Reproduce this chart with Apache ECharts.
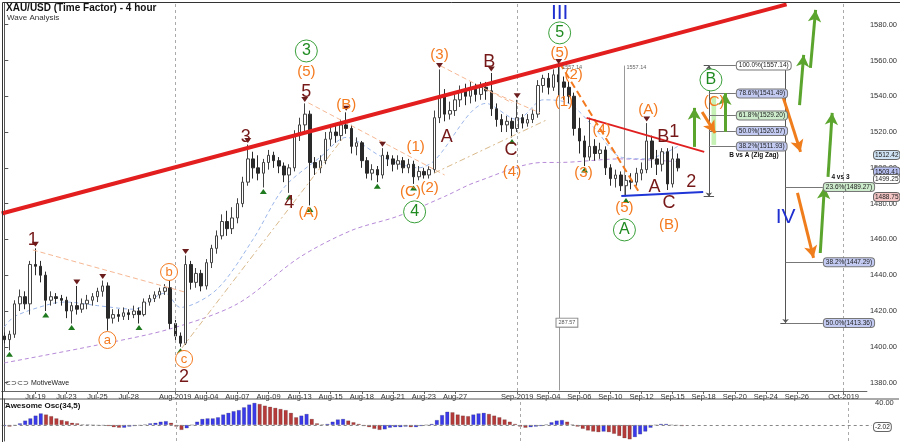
<!DOCTYPE html>
<html>
<head>
<meta charset="utf-8">
<script src="https://cdn.jsdelivr.net/npm/echarts@6/dist/echarts.min.js"></script>
<style>
  html, body { margin: 0; padding: 0; background: #fff; }
  #chart { width: 900px; height: 442px; }
</style>
</head>
<body>
<div id="chart"></div>
<script>
// trading sessions (3 bars of 8h per session), Sunday sessions carry the Sunday date
const sessions = ['Jul-17','Jul-18','Jul-19','Jul-22','Jul-23','Jul-24','Jul-25','Jul-26','Jul-28','Jul-30','Jul-31',
  'Aug-2019','Aug-02','Aug-04','Aug-06','Aug-07','Aug-08','Aug-09','Aug-12','Aug-13','Aug-14','Aug-15','Aug-16',
  'Aug-18','Aug-20','Aug-21','Aug-22','Aug-23','Aug-26','Aug-27','Aug-28','Aug-29','Aug-30',
  'Sep-2019','Sep-03','Sep-04','Sep-05','Sep-06','Sep-09','Sep-10','Sep-11','Sep-12','Sep-13',
  'Sep-15','Sep-17','Sep-18','Sep-19','Sep-20','Sep-23','Sep-24','Sep-25','Sep-26','Sep-27','Sep-30','Oct-2019','Oct-02'];
const axisDates = ['Jul-19','Jul-23','Jul-25','Jul-28','Aug-2019','Aug-04','Aug-07','Aug-09','Aug-13','Aug-15','Aug-18',
  'Aug-21','Aug-23','Aug-27','Sep-2019','Sep-04','Sep-06','Sep-10','Sep-12','Sep-15','Sep-18','Sep-20','Sep-24','Sep-26','Oct-2019'];
const priceLabels = [1380, 1400, 1420, 1440, 1460, 1480, 1500, 1520, 1540, 1560, 1580];
const aoLabels = [40];

// [open, close, low, high]
const bars = [
  [1406,1404,1402,1408],[1404,1407,1398,1409],[1407,1424,1405,1426],[1424,1428,1420,1432],[1428,1424,1421,1431],
  [1424,1446,1418,1448],[1446,1445,1440,1455],[1445,1440,1436,1448],[1440,1426,1420,1442],[1426,1428,1423,1431],
  [1428,1427,1424,1430],[1427,1426,1423,1429],[1426,1420,1416,1428],[1420,1423,1413,1425],[1423,1421,1418,1434],
  [1421,1424,1419,1427],[1424,1426,1421,1429],[1426,1428,1423,1430],[1428,1431,1425,1433],[1431,1434,1428,1437],
  [1434,1416,1409,1436],[1416,1418,1413,1421],[1418,1417,1414,1421],[1417,1419,1415,1422],[1419,1418,1415,1421],
  [1418,1420,1416,1423],[1420,1418,1413,1422],[1418,1425,1417,1427],[1425,1427,1423,1429],[1427,1429,1425,1431],
  [1429,1431,1427,1433],[1431,1433,1429,1435],[1433,1413,1410,1437],[1413,1406,1403,1415],[1406,1402,1400,1408],
  [1402,1446,1401,1451],[1446,1436,1432,1448],[1436,1441,1433,1444],[1441,1434,1431,1443],[1434,1447,1432,1449],
  [1447,1455,1444,1457],[1455,1462,1452,1465],[1462,1470,1460,1474],[1470,1466,1462,1476],[1466,1472,1463,1478],
  [1472,1480,1469,1483],[1480,1492,1478,1495],[1492,1505,1490,1513],[1505,1500,1494,1509],[1500,1497,1493,1507],
  [1497,1503,1489,1505],[1503,1507,1499,1510],[1507,1504,1500,1509],[1504,1501,1497,1506],[1501,1496,1492,1503],
  [1496,1500,1486,1502],[1500,1518,1498,1521],[1518,1524,1515,1528],[1524,1530,1520,1536],[1530,1503,1479,1532],
  [1503,1500,1496,1506],[1500,1504,1497,1507],[1504,1516,1502,1520],[1516,1520,1512,1524],[1520,1518,1514,1525],
  [1518,1524,1515,1527],[1524,1522,1519,1531],[1522,1512,1508,1524],[1512,1514,1507,1517],[1514,1504,1500,1515],
  [1504,1497,1494,1506],[1497,1499,1493,1502],[1499,1496,1492,1501],[1496,1507,1494,1511],[1507,1505,1501,1509],
  [1505,1502,1498,1507],[1502,1504,1499,1507],[1504,1500,1497,1506],[1500,1502,1497,1505],[1502,1495,1491,1504],
  [1495,1498,1493,1501],[1498,1496,1494,1500],[1496,1499,1494,1501],[1499,1528,1497,1532],[1528,1540,1525,1555],
  [1540,1530,1526,1544],[1530,1532,1527,1537],[1532,1538,1529,1541],[1538,1543,1534,1546],[1543,1540,1535,1547],
  [1540,1544,1536,1548],[1544,1541,1537,1547],[1541,1545,1538,1548],[1545,1543,1538,1548],[1543,1533,1529,1553],
  [1533,1527,1523,1536],[1527,1524,1520,1530],[1524,1526,1520,1529],[1526,1522,1517,1528],[1522,1528,1520,1538],
  [1528,1525,1522,1530],[1525,1527,1523,1530],[1527,1530,1525,1533],[1530,1546,1528,1549],[1546,1550,1542,1552],
  [1550,1545,1541,1553],[1545,1552,1543,1555],[1552,1548,1540,1557.14],[1548,1545,1538,1551],[1545,1540,1536,1548],
  [1540,1522,1518,1542],[1522,1515,1508,1528],[1515,1506,1501,1518],[1506,1512,1504,1528],[1512,1508,1504,1516],
  [1508,1510,1505,1514],[1510,1500,1496,1512],[1500,1494,1490,1502],[1494,1496,1489,1499],[1496,1490,1487,1498],
  [1490,1493,1484,1496],[1493,1492,1488,1497],[1492,1497,1490,1500],[1497,1499,1493,1503],[1499,1515,1497,1525],
  [1515,1505,1500,1518],[1505,1502,1496,1510],[1502,1509,1498,1511],[1509,1491,1487.6,1511],[1491,1505,1489,1512],
  [1505,1500,1498,1508]
];

// Awesome Oscillator (34,5)
const aoValues = [-2,-3,-1,3,8,12,17,21,19,16,12,9,7,4,3,1,1,0,-1,-1,-2,-4,-5,-5,-3,-2,-1,1,3,4,6,7,4,-3,-9,-6,0,6,11,12,
  12,14,19,22,25,27,32,37,40,38,35,33,31,29,27,22,14,17,20,11,3,1,2,6,10,11,8,5,2,-2,-4,-7,-9,-8,-5,-4,-4,-3,-4,-4,
  -2,0,2,9,18,24,23,19,17,16,19,21,22,20,17,14,10,6,2,-3,-5,-4,-3,-2,1,5,8,9,6,1,-3,-7,-10,-12,-13,-12,-13,-16,-20,-24,
  -26,-22,-17,-12,-5,0,2,2,0,-1,-2.02];

// moving averages read at sparse bars [bar, price]
const maFast = [[0,1411],[2,1417],[9,1424],[12,1425],[18,1423],[25,1421],[31,1430],[34,1422],[41,1432],[48,1460],[54,1489],
  [61,1506],[66,1517],[73,1506],[80,1500],[83,1504],[93,1536],[99,1527],[104,1538],[109,1536],[114,1522],[119,1506],[124,1505],[130,1512]];
const maSlow = [[0,1391],[18,1401],[32,1410],[45,1424],[57,1450],[67,1465],[76,1473],[85,1484],[91,1492],[104,1503],[107,1503],[119,1505],[130,1503.4]];

// wave labels [bar, price, text]
const waveMaroon = [[5.5,1459.7,'1'],[34.7,1383.2,'2'],[46.6,1517.3,'3'],[55.0,1480.4,'4'],[58.3,1542.4,'5'],[85.4,1517.3,'A'],
  [93.6,1559.2,'B'],[97.8,1510.0,'C'],[125.5,1489.3,'A'],[127.2,1517.3,'B'],[129.3,1520.1,'1'],[132.6,1492.1,'2'],[128.3,1480.4,'C']];
const waveOrange = [[58.3,1553.6,'(5)'],[58.7,1474.8,'(A)'],[66.0,1535.1,'(B)'],[79.4,1511.7,'(1)'],[78.4,1486.5,'(C)'],
  [82.1,1488.8,'(2)'],[84.0,1563.1,'(3)'],[98.0,1497.7,'(4)'],[107.2,1564.2,'(5)'],[109.9,1551.9,'(2)'],[108.0,1536.8,'(1)'],
  [111.8,1497.1,'(3)'],[115.3,1521.2,'(4)'],[119.7,1477.6,'(5)'],[124.3,1532.3,'(A)'],[128.3,1468.1,'(B)'],[137.0,1536.8,'(C)']];
const waveOrangeCircled = [[19.9,1403.8,'a'],[31.8,1441.8,'b'],[34.7,1393.2,'c']];
const waveGreenCircled = [[58.3,1565.3,'3'],[79.2,1475.4,'4'],[107.2,1575.4,'5'],[119.7,1465.3,'A'],[136.4,1549.1,'B']];
const waveBlue = [[107.2,1586.5,'III'],[150.8,1472.6,'IV']];
const swingHighs = [[6,1455],[14,1434],[19,1437],[32,1437],[35,1451],[47,1513],[58,1536],[66,1531],[73,1511],[84,1555],[94,1553],[99,1538],[107,1557.14],[124,1525]];
const swingLows = [[1,1398],[8,1420],[13,1413],[20,1409],[26,1413],[34,1400],[50,1489],[55,1486],[59,1479],[72,1492],[79,1491],[98,1517],[112,1501],[120,1484]];

// lines [bar1, price1, bar2, price2]
const mainTrend = [[-0.5,1474.5,151,1591.3]];
const triangleTop = [[112.4,1527.9,135.1,1508.9]];
const triangleBottom = [[119.1,1484.3,134.9,1486.5]];
const orangeDash = [[107.2,1558.6,122.6,1486.0]];
const lightLines = [[5.5,1454.1,34.7,1430.7],[58.7,1536.3,85.0,1496.0],[84.2,1557,98.0,1536.3],[93.2,1543.5,103.4,1530.7]];
const tanLines = [[34.3,1399.4,65.4,1516.7],[83.0,1497.1,104.7,1526.8]];
const upArrows = [[133.2,1511.7,133.2,1533.5],[139.1,1520.1,139.1,1541.8],[153.5,1535.1,154.3,1563.1],[155.6,1555.8,156.6,1588.2],
  [159.0,1494.9,159.8,1530.7],[157.5,1452.4,158.3,1489.3]];
const downArrows = [[134.7,1531.2,137.2,1519.5],[150.2,1540.7,153.7,1508.9],[153.1,1486.0,156.2,1449.7]];

// fibonacci tools
const fibB = { bar: 136.0, end: 141.2, high: 1557.14, low: 1484.0,
  levels: [['100.0%', 1557.14], ['78.6%', 1541.49], ['61.8%', 1529.20], ['50.0%', 1520.57], ['38.2%', 1511.93]] };
const fibIV = { bar: 150.8, end: 158.0, high: 1557.14, low: 1413.36,
  levels: [['23.6%', 1489.27], ['38.2%', 1447.29], ['50.0%', 1413.36]] };
const monthStarts = [33, 99, 162];

const FONT = '"Liberation Sans", Arial, sans-serif';
const MAROON = '#761818', ORANGE = '#f47a1f', BLUE = '#1f2fd0';

const nBars = 167;
const categories = [];
for (let i = 0; i < nBars; i++) categories.push(sessions[Math.floor(i / 3)] + '#' + (i % 3));
const showDate = (i, v) => i % 3 === 0 && axisDates.includes(v.split('#')[0]);

const chart = echarts.init(document.getElementById('chart'));

function seg(l, style, extra) {
  return [Object.assign({ coord: [l[0], l[1]], lineStyle: style, symbol: 'none' }, extra || {}),
          { coord: [l[2], l[3]], symbol: 'none' }];
}
function arrow(l, color) {
  return [{ coord: [l[0], l[1]], lineStyle: { color: color, width: 3, type: 'solid' }, symbol: 'none' },
          { coord: [l[2], l[3]], symbol: 'arrow', symbolSize: [10, 12] }];
}
const fibColors = { '100.0%': '#ffffff', '78.6%': '#c3cbf3', '61.8%': '#cdeccc', '50.0%': '#c3cbf3', '38.2%': '#c3cbf3', '23.6%': '#cdeccc' };
function fibLines(f) {
  const gray = { color: '#555', width: 1, type: 'solid' };
  const out = [
    [{ coord: [f.bar, f.high], lineStyle: gray, symbol: 'arrow', symbolSize: [5, 4] }, { coord: [f.bar, f.low], symbol: 'arrow', symbolSize: [5, 4] }],
    seg([f.bar - 1, f.high, f.bar + 1, f.high], gray),
    seg([f.bar - 1, f.low, f.bar + 1, f.low], gray)
  ];
  f.levels.forEach(([pct, v]) => {
    out.push(seg([f.bar, v, f.end, v], { color: '#777', width: 1, type: 'solid' }, {
      label: {
        show: true, position: 'end', distance: 1,
        formatter: pct + '(' + v.toFixed(2) + ')',
        fontSize: 6.5, fontFamily: FONT, color: '#222',
        backgroundColor: fibColors[pct], borderColor: '#777', borderWidth: 1, borderRadius: 3, padding: [1, 2, 0, 2]
      }
    }));
  });
  return out;
}

function textSeries(data, color, size, extra) {
  return Object.assign({
    type: 'scatter', xAxisIndex: 1, yAxisIndex: 0, silent: true, z: 6,
    data: data, symbol: 'circle', symbolSize: 1,
    itemStyle: { color: 'rgba(0,0,0,0)', opacity: 1 },
    label: { show: true, position: 'inside', formatter: p => p.value[2], color: color, fontSize: size, fontFamily: FONT,
             opacity: 1, textBorderWidth: 0 }
  }, extra || {});
}

const option = {
  animation: false,
  backgroundColor: '#fff',
  grid: [
    { left: 1.7, top: 3, width: 870.3, height: 388 },
    { left: 1.7, top: 399, width: 870.3, height: 42 }
  ],
  xAxis: [
    { type: 'category', gridIndex: 0, data: categories, boundaryGap: true,
      axisLine: { lineStyle: { color: '#666' } },
      axisTick: { show: true, interval: showDate, alignWithLabel: true, length: 3, lineStyle: { color: '#666' } },
      axisLabel: { interval: showDate, formatter: v => v.split('#')[0], fontSize: 7.5, color: '#333', fontFamily: FONT, margin: 2 },
      splitLine: { show: false } },
    { type: 'value', gridIndex: 0, min: -0.5, max: nBars - 0.5, show: false },
    { type: 'category', gridIndex: 1, data: categories, boundaryGap: true, show: false },
    { type: 'value', gridIndex: 1, min: -0.5, max: nBars - 0.5, show: false }
  ],
  yAxis: [
    { type: 'value', gridIndex: 0, position: 'right', min: 1375.3, max: 1592.1, scale: true,
      axisLine: { show: true, lineStyle: { color: '#555' } },
      axisTick: { show: true, customValues: priceLabels, length: 4, lineStyle: { color: '#555' } },
      axisLabel: { customValues: priceLabels, formatter: v => v.toFixed(2), fontSize: 7.5, color: '#333', fontFamily: FONT, margin: 3 },
      splitLine: { show: false } },
    { type: 'value', gridIndex: 1, position: 'right', min: -29, max: 47,
      axisLine: { show: true, lineStyle: { color: '#555' } },
      axisTick: { show: true, customValues: aoLabels, length: 4, lineStyle: { color: '#555' } },
      axisLabel: { customValues: aoLabels, formatter: v => v.toFixed(2), fontSize: 7.5, color: '#333', fontFamily: FONT, margin: 3 },
      splitLine: { show: false } }
  ],
  series: [
    { name: 'maSlow', type: 'line', xAxisIndex: 1, yAxisIndex: 0, data: maSlow, symbol: 'none', smooth: 0.3, z: 1,
      lineStyle: { color: '#b68ad8', width: 1, type: [4, 3] } },
    { name: 'maFast', type: 'line', xAxisIndex: 1, yAxisIndex: 0, data: maFast, symbol: 'none', smooth: 0.3, z: 1,
      lineStyle: { color: '#9bb6ea', width: 1, type: [4, 3] } },
    { name: 'XAU/USD', type: 'candlestick', xAxisIndex: 0, yAxisIndex: 0, data: bars, barWidth: 3, z: 3,
      itemStyle: { color: '#ffffff', color0: '#2a2a2a', borderColor: '#444', borderColor0: '#2a2a2a', borderWidth: 1 } },
    { name: 'lines', type: 'line', xAxisIndex: 1, yAxisIndex: 0, data: [], z: 4,
      markLine: {
        silent: true, symbol: ['none', 'none'], label: { show: false }, animation: false,
        data: [].concat(
          monthStarts.map(m => ({ xAxis: m, lineStyle: { color: '#aaa', width: 1, type: [3, 3] }, symbol: 'none' })),
          [[{ coord: [107.2, 1557.14], lineStyle: { color: '#999', width: 1, type: 'solid' }, symbol: 'none' }, { coord: [107.2, 1375.6], symbol: 'none' }]],
          [[{ coord: [119.6, 1557.14], lineStyle: { color: '#999', width: 1, type: 'solid' }, symbol: 'none' }, { coord: [119.6, 1484.0], symbol: 'none' }]],
          lightLines.map(l => seg(l, { color: '#f6b894', width: 1, type: [5, 3] })),
          tanLines.map(l => seg(l, { color: '#d9b98a', width: 1, type: [6, 3, 2, 3] })),
          orangeDash.map(l => seg(l, { color: ORANGE, width: 2, type: [7, 4] })),
          triangleTop.map(l => seg(l, { color: '#e02020', width: 2, type: 'solid' })),
          triangleBottom.map(l => seg(l, { color: '#1f35d6', width: 2, type: 'solid' })),
          mainTrend.map(l => seg(l, { color: '#e31e1e', width: 4, type: 'solid' })),
          fibLines(fibB), fibLines(fibIV),
          upArrows.map(l => arrow(l, '#5ba52e')),
          downArrows.map(l => arrow(l, '#f07d1c'))
        )
      },
      markArea: { silent: true, itemStyle: { color: 'rgba(150,230,120,0.55)' },
        data: [[{ coord: [136.5, 1539.6] }, { coord: [137.4, 1512.8] }]] } },
    { name: 'highs', type: 'scatter', xAxisIndex: 1, yAxisIndex: 0, data: swingHighs, silent: true, z: 5,
      symbol: 'triangle', symbolRotate: 180, symbolSize: [7, 5], symbolOffset: [0, -4], itemStyle: { color: '#6b1d1d', opacity: 1 } },
    { name: 'lows', type: 'scatter', xAxisIndex: 1, yAxisIndex: 0, data: swingLows, silent: true, z: 5,
      symbol: 'triangle', symbolSize: [7, 5], symbolOffset: [0, 4], itemStyle: { color: '#1f7a1f', opacity: 1 } },
    textSeries(waveMaroon, MAROON, 18),
    textSeries(waveOrange, ORANGE, 15),
    textSeries(waveBlue, BLUE, 21),
    textSeries(waveOrangeCircled, ORANGE, 13, { symbolSize: 17, itemStyle: { color: '#fff', borderColor: ORANGE, borderWidth: 1, opacity: 1 } }),
    textSeries(waveGreenCircled, '#1f8a1f', 16, { symbolSize: 22, itemStyle: { color: '#fff', borderColor: '#3aa03a', borderWidth: 1, opacity: 1 } }),
    textSeries([[144.7, 1507.2, 'B vs A (Zig Zag)'], [161.4, 1494.6, '4 vs 3']], '#111', 6.5, { label: { show: true, position: 'inside', formatter: p => p.value[2], color: '#111', fontSize: 6.5, fontWeight: 'bold', fontFamily: FONT, textBorderWidth: 0 } }),
    textSeries([[109.6, 1556.3, '1557.14'], [122.0, 1556.3, '1557.14']], '#666', 5.5),
    textSeries([[108.6, 1413.5, '287.57']], '#555', 5.5, { label: { show: true, position: 'inside', formatter: p => p.value[2], color: '#555', fontSize: 5.5, fontFamily: FONT, textBorderWidth: 0, backgroundColor: '#fff', borderColor: '#888', borderWidth: 1, padding: [1, 2] } }),
    { name: 'AO', type: 'bar', xAxisIndex: 2, yAxisIndex: 1, data: aoValues, barWidth: 4,
      itemStyle: { color: p => (p.dataIndex > 0 && aoValues[p.dataIndex] < aoValues[p.dataIndex - 1]) ? '#b53a3a' : '#3a3ae8',
                   borderColor: 'rgba(40,40,40,0.35)', borderWidth: 0.5 },
      markLine: { silent: true, symbol: ['none', 'none'], label: { show: false },
        data: [{ yAxis: 0, lineStyle: { color: '#888', width: 1, type: [3, 3] } }] } },
    { name: 'aoMonths', type: 'line', xAxisIndex: 3, yAxisIndex: 1, data: [],
      markLine: { silent: true, symbol: ['none', 'none'], label: { show: false },
        data: monthStarts.map(m => ({ xAxis: m, lineStyle: { color: '#aaa', width: 1, type: [3, 3] } })) } }
  ],
  graphic: [
    { type: 'rect', left: 0, top: 0, shape: { width: 899, height: 441 }, style: { fill: 'none', stroke: '#333', lineWidth: 1 }, silent: true, z: 100 },
    { type: 'line', shape: { x1: 0, y1: 399, x2: 899, y2: 399 }, style: { stroke: '#555', lineWidth: 1 }, silent: true },
    { type: 'text', left: 6, top: 3, style: { text: 'XAU/USD (Time Factor) - 4 hour', font: 'bold 10px ' + FONT, fill: '#111' } },
    { type: 'text', left: 7, top: 14, style: { text: 'Wave Analysis', font: '8px ' + FONT, fill: '#333' } },
    { type: 'text', left: 5, top: 380, style: { text: '\u2282\u2283\u2282\u2283 MotiveWave', font: '7px ' + FONT, fill: '#222' } },
    { type: 'text', left: 5, top: 402, style: { text: 'Awesome Osc(34,5)', font: 'bold 8px ' + FONT, fill: '#111' } }
  ]
};

chart.setOption(option);

// price tags on the right axis
const tags = [
  { y: 154, text: '1512.42', bg: '#cfe3f4' },
  { y: 170.5, text: '1503.41', bg: '#b9c1f2' },
  { y: 178, text: '1499.25', bg: '#ffffff' },
  { y: 196, text: '1488.75', bg: '#f3c4c4' },
  { y: 426, text: '-2.02', bg: '#ffffff' }
];
chart.setOption({
  graphic: option.graphic.concat(tags.map(t => ({
    type: 'text', left: 873, top: t.y - 4, z: 50,
    style: { text: t.text, font: '6.5px ' + FONT, fill: '#222', backgroundColor: t.bg, borderColor: '#666', borderWidth: 1, borderRadius: 3, padding: [1, 1, 0, 1] }
  })))
});
</script>
</body>
</html>
